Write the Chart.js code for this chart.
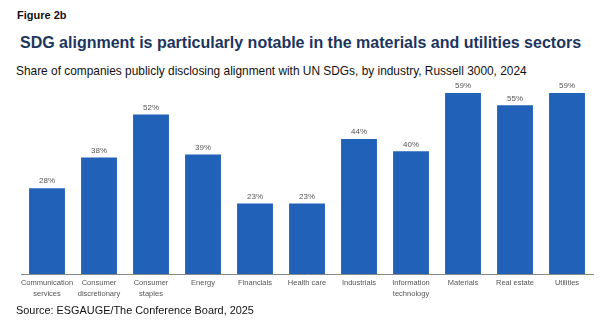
<!DOCTYPE html>
<html>
<head>
<meta charset="utf-8">
<script src="https://cdn.jsdelivr.net/npm/chart.js@4"></script>
<style>
  body { margin: 0; background: #fff; font-family: "Liberation Sans", Arial, sans-serif; }
  .wrap { position: relative; width: 613px; height: 323px; overflow: hidden; }
  .fig { position: absolute; left: 17px; top: 9px; font-size: 11px; font-weight: bold; color: #111; }
  .title { position: absolute; left: 20px; top: 34px; font-size: 16px; font-weight: bold; color: #1c355e; white-space: nowrap; }
  .sub { position: absolute; left: 16px; top: 64px; font-size: 11.9px; color: #111; white-space: nowrap; }
  .src { position: absolute; left: 16px; top: 304px; font-size: 10.9px; color: #111; white-space: nowrap; }
  .chart { position: absolute; left: 0; top: 78px; width: 613px; height: 229px; }
</style>
</head>
<body>
<div class="wrap">
  <div class="fig">Figure 2b</div>
  <div class="title">SDG alignment is particularly notable in the materials and utilities sectors</div>
  <div class="sub">Share of companies publicly disclosing alignment with UN SDGs, by industry, Russell 3000, 2024</div>
  <div class="chart"><canvas id="myChart"></canvas></div>
  <div class="src">Source: ESGAUGE/The Conference Board, 2025</div>
</div>
<script>
// industries along the x axis (multi-line labels)
const industries = [
  ['Communication', 'services'],
  ['Consumer', 'discretionary'],
  ['Consumer', 'staples'],
  'Energy',
  'Financials',
  'Health care',
  'Industrials',
  ['Information', 'technology'],
  'Materials',
  'Real estate',
  'Utilities'
];
// share of companies disclosing SDG alignment, in percent
const shares = [28, 38, 52, 39, 23, 23, 44, 40, 59, 55, 59];

// write the percentage above each bar
const valueLabels = {
  id: 'valueLabels',
  afterDatasetsDraw(chart) {
    const ctx = chart.ctx;
    const meta = chart.getDatasetMeta(0);
    ctx.save();
    ctx.font = '8px "Liberation Sans", Arial, sans-serif';
    ctx.fillStyle = '#555';
    ctx.textAlign = 'center';
    ctx.textBaseline = 'bottom';
    meta.data.forEach((bar, i) => {
      ctx.fillText(shares[i] + '%', bar.x, bar.y - 3);
    });
    ctx.restore();
  }
};

const ctx = document.getElementById('myChart').getContext('2d');
const myChart = new Chart(ctx, {
  type: 'bar',
  data: {
    labels: industries,
    datasets: [{
      data: shares,
      backgroundColor: '#2161b8',
      borderColor: '#2161b8',
      borderWidth: 0
    }]
  },
  options: {
    responsive: true,
    maintainAspectRatio: false,
    animation: false,
    layout: { padding: { left: 21, right: 20, top: 12, bottom: 4 } },
    plugins: {
      legend: { display: false },
      tooltip: { enabled: false }
    },
    datasets: {
      bar: { categoryPercentage: 1, barPercentage: 0.69 }
    },
    scales: {
      x: {
        grid: { display: false, drawTicks: false },
        border: { display: true, color: '#888', width: 1 },
        ticks: {
          autoSkip: false,
          maxRotation: 0,
          padding: 4,
          color: '#555',
          font: { size: 7.5, family: '"Liberation Sans", Arial, sans-serif', lineHeight: 1.4 }
        }
      },
      y: {
        display: false,
        min: 0,
        max: 60
      }
    }
  },
  plugins: [valueLabels]
});
</script>
</body>
</html>
